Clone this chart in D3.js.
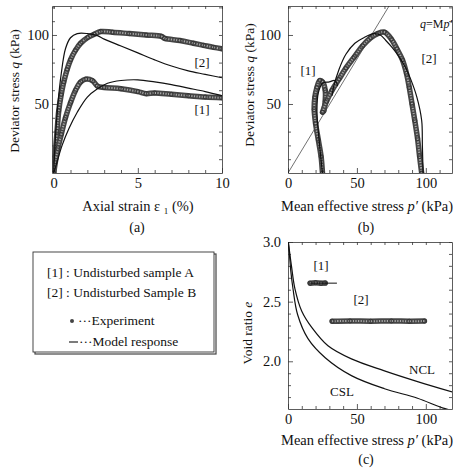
<!DOCTYPE html>
<html>
<head>
<meta charset="utf-8">
<script src="https://cdn.jsdelivr.net/npm/d3@7"></script>
<style>
  body { margin: 0; background: #fff; }
  svg { display: block; font-family: "Liberation Serif", "Times New Roman", serif; }
  .ax path, .ax line { stroke: #333; stroke-width: 0.8; }
  .ax text { font-family: "Liberation Serif", serif; font-size: 14.5px; fill: #111; }
</style>
</head>
<body>
<svg id="chart" width="453" height="468"></svg>
<script>
// --- (a) axial strain (%) vs deviator stress q (kPa) ---
const expA1 = [[0,0],[0.1,8],[0.25,18],[0.45,28],[0.7,40],[1.0,51],[1.3,60],[1.6,66],[1.9,68],[2.3,67],[2.6,63],[3.0,62],[4.0,61],[5.0,59],[5.5,57.5],[6.0,58],[7.0,57],[8.0,56],[9.0,55],[10,54.5]];
const expA2 = [[0,0],[0.08,12],[0.2,30],[0.3,45],[0.45,57],[0.6,66],[0.8,75],[1.0,82],[1.3,89],[1.6,94],[2.0,98],[2.4,100.5],[2.8,102.5],[3.5,102],[4.5,101],[5.5,100],[6.4,99],[6.6,97.5],[7.5,96],[8.3,94],[8.9,92.5],[9.5,91],[10,90]];
const modA1 = [[0,0],[0.2,8],[0.5,20],[0.9,32],[1.4,44],[2.0,55],[2.6,61],[3.2,65],[4.0,67],[5.0,67.5],[6.0,66],[7.0,64],[8.0,61.5],[9.0,59],[10,56]];
const modA2 = [[0,0],[0.1,25],[0.25,50],[0.45,72],[0.7,90],[1.0,98],[1.4,101],[2.0,101],[2.6,99.5],[3.0,97],[4.0,92],[5.0,87],[6.0,82],[7.0,77.5],[8.0,74],[9.0,71.5],[10,69]];

// --- (b) mean effective stress p' vs q (kPa) ---
const expB1 = [[25,0],[24,12],[22,24],[20,36],[19,46],[19.5,55],[21,62],[23,67],[25,66],[27,60],[27,52],[26,45]];
const expB2 = [[25,44],[28,52],[32,60],[37,68],[42,76],[48,84],[54,92],[60,98],[65,101],[70,102],[75,97],[79,90],[83,82],[86,72],[88,62],[90,50],[92,38],[94,25],[95.5,12],[97,0]];
const modB1 = [[25,0],[22,30],[21,45],[22,58],[25,65],[30,66],[34,67],[36,63]];
const modB2 = [[98,0],[97.5,20],[97,38],[93.5,55],[89,68],[85,77],[80,85],[75.5,91],[71,96],[67,100],[62,101],[55,98],[48.5,94],[42,86],[37,75],[33,62],[32,56]];
const csLine = [[0,0],[80,132]];

// --- (c) mean effective stress p' vs void ratio e ---
const ncl = [[0.3,3.0],[1,2.93],[2.5,2.8],[5,2.61],[10,2.42],[17.5,2.28],[29,2.13],[46,2.02],[70,1.92],[94,1.83],[120,1.74]];
const csl = [[0.3,2.98],[1,2.9],[2,2.76],[3.6,2.61],[7,2.39],[14.5,2.19],[27,2.03],[46,1.88],[70,1.77],[94,1.69],[112,1.61],[125,1.57]];
const expC1 = [[16,2.655],[20,2.658],[24,2.655],[27,2.656]];
const modC1 = [[16,2.655],[35.5,2.655]];
const expC2 = [[32,2.336],[45,2.338],[60,2.336],[75,2.338],[88,2.336],[99,2.337]];

const svg = d3.select("#chart");

// scales
const xA = d3.scaleLinear().domain([-0.1, 10]).range([52, 222]);
const yA = d3.scaleLinear().domain([0, 121]).range([173, 6]);
const xB = d3.scaleLinear().domain([0, 119]).range([288, 452]);
const yB = d3.scaleLinear().domain([0, 121]).range([173, 6]);
const xC = d3.scaleLinear().domain([0, 119]).range([288, 452]);
const yC = d3.scaleLinear().domain([1.6, 3.0]).range([409, 242]);

function frame(x, y, xMajor, xMinor, yMajor, yMinor, xPad, yPad, yFmt) {
  const [x0, x1] = x.range(), [y0, y1] = y.range();
  const g = svg.append("g");
  g.append("g").attr("class", "ax").attr("transform", `translate(0,${y0})`)
    .call(d3.axisBottom(x).tickValues(xMinor).tickSize(-3).tickSizeOuter(0).tickFormat(""));
  g.append("g").attr("class", "ax").attr("transform", `translate(0,${y0})`)
    .call(d3.axisBottom(x).tickValues(xMajor).tickSize(-5).tickSizeOuter(0).tickPadding(xPad))
    .call(a => a.select(".domain").remove());
  g.append("g").attr("class", "ax").attr("transform", `translate(0,${y1})`)
    .call(d3.axisTop(x).tickValues(xMinor.concat(xMajor)).tickSize(-3).tickSizeOuter(0).tickFormat(""));
  g.append("g").attr("class", "ax").attr("transform", `translate(${x0},0)`)
    .call(d3.axisLeft(y).tickValues(yMinor).tickSize(-3).tickSizeOuter(0).tickFormat(""));
  g.append("g").attr("class", "ax").attr("transform", `translate(${x0},0)`)
    .call(d3.axisLeft(y).tickValues(yMajor).tickSize(-5).tickSizeOuter(0).tickPadding(yPad).tickFormat(yFmt))
    .call(a => a.select(".domain").remove());
  g.append("g").attr("class", "ax").attr("transform", `translate(${x1},0)`)
    .call(d3.axisRight(y).tickValues(yMinor.concat(yMajor)).tickSize(-3).tickSizeOuter(0).tickFormat(""));
  return g;
}

function clip(id, x, y) {
  const [x0, x1] = x.range(), [y0, y1] = y.range();
  svg.append("clipPath").attr("id", id).append("rect")
    .attr("x", x0).attr("y", y1).attr("width", x1 - x0).attr("height", y0 - y1);
  return svg.append("g").attr("clip-path", `url(#${id})`);
}

// experiment: dense open markers drawn as a textured band through the read points
function expBand(g, data, x, y) {
  const line = d3.line().x(d => x(d[0])).y(d => y(d[1])).curve(d3.curveCatmullRom);
  g.append("path").datum(data).attr("d", line).attr("fill", "none")
    .attr("stroke", "#454545").attr("stroke-width", 5.5)
    .attr("stroke-linejoin", "round").attr("stroke-linecap", "round");
  g.append("path").datum(data).attr("d", line).attr("fill", "none")
    .attr("stroke", "#a8a8a8").attr("stroke-width", 2).attr("stroke-dasharray", "1.2 1.4");
  g.selectAll(null).data(data).join("circle")
    .attr("cx", d => x(d[0])).attr("cy", d => y(d[1])).attr("r", 2.1)
    .attr("fill", "none").attr("stroke", "#2a2a2a").attr("stroke-width", 0.6);
}

function model(g, data, x, y, w = 1.2) {
  const line = d3.line().x(d => x(d[0])).y(d => y(d[1])).curve(d3.curveCatmullRom);
  g.append("path").datum(data).attr("d", line).attr("fill", "none")
    .attr("stroke", "#111").attr("stroke-width", w);
}

function label(x, y, parts, opts = {}) {
  const t = svg.append("text").attr("x", x).attr("y", y)
    .attr("font-size", opts.size || 13.5).attr("fill", "#111")
    .attr("text-anchor", opts.anchor || "middle");
  if (opts.rotate) t.attr("transform", `rotate(-90,${x},${y})`);
  parts.forEach(p => {
    const s = t.append("tspan").text(p.t);
    if (p.i) s.attr("font-style", "italic");
    if (p.sub) s.attr("font-size", 9).attr("dy", 3);
    if (p.up) s.attr("dy", -3);
  });
  return t;
}

// ---- panel (a)
frame(xA, yA, [0, 5, 10], d3.range(1, 10).filter(v => v !== 5),
  [50, 100], d3.range(10, 121, 10).filter(v => v % 50 !== 0), 5, 3, d3.format("d"));
const gA = clip("clipA", xA, yA);
expBand(gA, expA2, xA, yA);
expBand(gA, expA1, xA, yA);
model(gA, modA2, xA, yA);
model(gA, modA1, xA, yA);
label(202, 67, [{ t: "[2]" }], { size: 13 });
label(202, 114, [{ t: "[1]" }], { size: 13 });
label(19, 91, [{ t: "Deviator stress  " }, { t: "q", i: true }, { t: " (kPa)" }], { rotate: true });
label(138, 211, [{ t: "Axial strain  ε " }, { t: "1", sub: true }, { t: " (%)", up: true }], { size: 14.5 });
label(137, 232, [{ t: "(a)" }], { size: 14 });

// ---- panel (b)
frame(xB, yB, [0, 50, 100], d3.range(10, 120, 10).filter(v => v % 50 !== 0),
  [50, 100], d3.range(10, 121, 10).filter(v => v % 50 !== 0), 5, 7, d3.format("d"));
const gB = clip("clipB", xB, yB);
model(gB, csLine, xB, yB, 0.6);
expBand(gB, expB1, xB, yB);
expBand(gB, expB2, xB, yB);
model(gB, modB2, xB, yB);
model(gB, modB1, xB, yB);
label(308, 75, [{ t: "[1]" }], { size: 13 });
label(429, 63, [{ t: "[2]" }], { size: 13 });
label(452, 28, [{ t: "q", i: true }, { t: "=M" }, { t: "p′", i: true }], { size: 12, anchor: "end" });
label(254, 85, [{ t: "Deviator stress  " }, { t: "q", i: true }, { t: " (kPa)" }], { rotate: true });
label(367, 211, [{ t: "Mean effective stress  " }, { t: "p′", i: true }, { t: " (kPa)" }], { size: 14.5 });
label(366, 232, [{ t: "(b)" }], { size: 14 });

// ---- panel (c)
frame(xC, yC, [0, 50, 100], d3.range(10, 120, 10).filter(v => v % 50 !== 0),
  [2.0, 2.5, 3.0], d3.range(1.7, 2.95, 0.1).filter(v => Math.abs(v * 2 - Math.round(v * 2)) > 0.01),
  5, 7, d3.format(".1f"));
const gC = clip("clipC", xC, yC);
model(gC, ncl, xC, yC);
model(gC, csl, xC, yC);
expBand(gC, expC1, xC, yC);
model(gC, modC1, xC, yC, 1);
expBand(gC, expC2, xC, yC);
label(321, 270, [{ t: "[1]" }], { size: 13 });
label(361, 304, [{ t: "[2]" }], { size: 13 });
label(422, 374, [{ t: "NCL" }], { size: 13 });
label(342, 396, [{ t: "CSL" }], { size: 13 });
label(252, 333, [{ t: "Void ratio  " }, { t: "e", i: true }], { rotate: true });
label(367, 445, [{ t: "Mean effective stress  " }, { t: "p′", i: true }, { t: " (kPa)" }], { size: 14.5 });
label(366, 464, [{ t: "(c)" }], { size: 14 });

// ---- legend box
const lg = svg.append("g");
lg.append("rect").attr("x", 35).attr("y", 254).attr("width", 181).attr("height", 100)
  .attr("fill", "none").attr("stroke", "#444").attr("stroke-width", 1.2);
lg.append("rect").attr("x", 33).attr("y", 252).attr("width", 181).attr("height", 100)
  .attr("fill", "#fff").attr("stroke", "#333").attr("stroke-width", 0.9);
label(47, 277, [{ t: "[1] : Undisturbed sample A" }], { anchor: "start" });
label(47, 297, [{ t: "[2] : Undisturbed Sample B" }], { anchor: "start" });
lg.append("circle").attr("cx", 72).attr("cy", 321).attr("r", 2).attr("fill", "#444");
label(78, 325, [{ t: "···Experiment" }], { anchor: "start" });
lg.append("line").attr("x1", 69).attr("x2", 78).attr("y1", 342).attr("y2", 342)
  .attr("stroke", "#111").attr("stroke-width", 1.1);
label(79, 346, [{ t: "···Model response" }], { anchor: "start" });
</script>
</body>
</html>
